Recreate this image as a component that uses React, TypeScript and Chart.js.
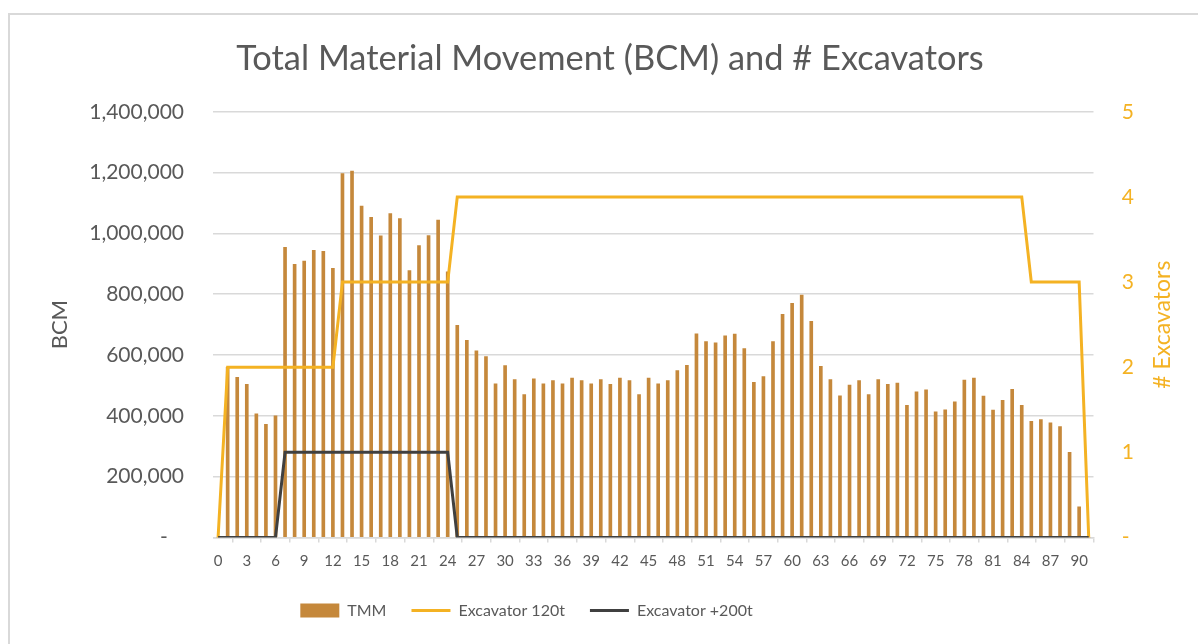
import React, { useEffect, useRef } from 'react';
import Chart from 'chart.js/auto';

const categories = ['0','1','2','3','4','5','6','7','8','9','10','11','12','13','14','15','16','17','18','19','20','21','22','23','24','25','26','27','28','29','30','31','32','33','34','35','36','37','38','39','40','41','42','43','44','45','46','47','48','49','50','51','52','53','54','55','56','57','58','59','60','61','62','63','64','65','66','67','68','69','70','71','72','73','74','75','76','77','78','79','80','81','82','83','84','85','86','87','88','89','90','91'];

const tmm = [
  0, 560000, 527000, 504000, 407000, 372000, 400000, 954000, 898000, 909000,
  944000, 941000, 885000, 1197000, 1205000, 1090000, 1053000, 992000, 1065000, 1049000,
  878000, 960000, 993000, 1044000, 874000, 698000, 648000, 614000, 595000, 505000,
  565000, 519000, 470000, 522000, 505000, 516000, 505000, 524000, 516000, 505000,
  519000, 504000, 524000, 516000, 470000, 524000, 505000, 516000, 549000, 566000,
  670000, 644000, 640000, 663000, 669000, 621000, 510000, 529000, 644000, 734000,
  770000, 797000, 711000, 563000, 519000, 466000, 501000, 516000, 470000, 519000,
  504000, 508000, 435000, 479000, 486000, 413000, 420000, 446000, 518000, 524000,
  465000, 419000, 451000, 487000, 435000, 382000, 388000, 377000, 365000, 280000,
  101000, 0
];

const excavator120 = [
  0, 2, 2, 2, 2, 2, 2, 2, 2, 2,
  2, 2, 2, 3, 3, 3, 3, 3, 3, 3,
  3, 3, 3, 3, 3, 4, 4, 4, 4, 4,
  4, 4, 4, 4, 4, 4, 4, 4, 4, 4,
  4, 4, 4, 4, 4, 4, 4, 4, 4, 4,
  4, 4, 4, 4, 4, 4, 4, 4, 4, 4,
  4, 4, 4, 4, 4, 4, 4, 4, 4, 4,
  4, 4, 4, 4, 4, 4, 4, 4, 4, 4,
  4, 4, 4, 4, 4, 3, 3, 3, 3, 3,
  3, 0
];

const excavator200 = [
  0, 0, 0, 0, 0, 0, 0, 1, 1, 1,
  1, 1, 1, 1, 1, 1, 1, 1, 1, 1,
  1, 1, 1, 1, 1, 0, 0, 0, 0, 0,
  0, 0, 0, 0, 0, 0, 0, 0, 0, 0,
  0, 0, 0, 0, 0, 0, 0, 0, 0, 0,
  0, 0, 0, 0, 0, 0, 0, 0, 0, 0,
  0, 0, 0, 0, 0, 0, 0, 0, 0, 0,
  0, 0, 0, 0, 0, 0, 0, 0, 0, 0,
  0, 0, 0, 0, 0, 0, 0, 0, 0, 0,
  0, 0
];

const TITLE = 'Total Material Movement (BCM) and # Excavators';
const LEFT_TITLE = 'BCM';
const RIGHT_TITLE = '# Excavators';
const SERIES_NAMES = ['TMM', 'Excavator 120t', 'Excavator +200t'];

const FONT = 'Lato';
const GREY = '#595959';
const GRID = '#d9d9d9';
const BAR = '#C5883B';
const GOLD = '#F4B223';
const DARK = '#404040';

const rightTitlePlugin = {
  id: 'rightTitle',
  afterDraw(chart: any) {
    const s = chart.scales.y1;
    const ctx = chart.ctx;
    const area = chart.chartArea;
    ctx.save();
    ctx.translate(s.right - 35, (area.top + area.bottom) / 2);
    ctx.rotate(-Math.PI / 2);
    ctx.font = `23px ${FONT}`;
    ctx.fillStyle = GOLD;
    ctx.textAlign = 'center';
    ctx.textBaseline = 'middle';
    ctx.fillText(RIGHT_TITLE, 0, 0);
    ctx.restore();
  },
};

// Excel places the title and legend slightly off the box centre
const boxShiftPlugin = {
  id: 'boxShift',
  afterLayout(chart: any) {
    if (chart.titleBlock) {
      chart.titleBlock.left -= 18;
    }
    if (chart.legend) {
      chart.legend.right -= 185;
    }
  },
};

export default function App() {
  const ref = useRef<HTMLCanvasElement | null>(null);

  useEffect(() => {
    if (!ref.current) return;
    const chart = new Chart(ref.current, {
      data: {
        labels: categories,
        datasets: [
          {
            type: 'bar',
            label: SERIES_NAMES[0],
            data: tmm,
            backgroundColor: BAR,
            borderColor: BAR,
            borderWidth: 0,
            barThickness: 3,
            yAxisID: 'y',
            order: 3,
          },
          {
            type: 'line',
            label: SERIES_NAMES[1],
            data: excavator120,
            borderColor: GOLD,
            backgroundColor: GOLD,
            borderWidth: 3,
            pointRadius: 0,
            tension: 0,
            yAxisID: 'y1',
            order: 2,
          },
          {
            type: 'line',
            label: SERIES_NAMES[2],
            data: excavator200,
            borderColor: DARK,
            backgroundColor: DARK,
            borderWidth: 3,
            pointRadius: 0,
            tension: 0,
            yAxisID: 'y1',
            order: 1,
          },
        ],
      } as any,
      options: {
        animation: false,
        responsive: false,
        maintainAspectRatio: false,
        layout: { padding: { left: 30, right: 0, top: 0, bottom: 15.5 } },
        plugins: {
          title: {
            display: true,
            text: TITLE,
            color: GREY,
            font: { family: FONT, size: 34.4, weight: 'normal' },
            padding: { top: 23, bottom: 32.5 },
          },
          legend: {
            position: 'bottom',
            labels: {
              color: GREY,
              font: { family: FONT, size: 16 },
              usePointStyle: true,
              pointStyleWidth: 39,
              boxHeight: 14,
              padding: 25,
              generateLabels: (chart: any) => {
                const items = (Chart as any).defaults.plugins.legend.labels.generateLabels(chart);
                return items
                  .map((it: any) => {
                    const isBar = it.datasetIndex === 0;
                    return {
                      ...it,
                      pointStyle: isBar ? 'rect' : 'line',
                      lineWidth: isBar ? 0 : 3,
                      fillStyle: isBar ? BAR : it.strokeStyle,
                    };
                  })
                  .sort((a: any, b: any) => a.datasetIndex - b.datasetIndex);
              },
            },
          },
          tooltip: { enabled: false },
        },
        scales: {
          x: {
            type: 'category',
            offset: true,
            afterFit: (scale: any) => { scale.height = 40; },
            grid: {
              display: true,
              drawOnChartArea: false,
              drawTicks: true,
              tickLength: 5,
              color: GRID,
              lineWidth: 1.5,
              offset: true,
            },
            border: { display: true, color: GRID, width: 1.5 },
            ticks: {
              autoSkip: false,
              maxRotation: 0,
              minRotation: 0,
              padding: 10,
              color: GREY,
              font: { family: FONT, size: 15 },
              callback: function (this: any, _v: any, i: number) {
                return i % 3 === 0 ? categories[i] : null;
              },
            },
          },
          y: {
            position: 'left',
            min: 0,
            max: 1400000,
            afterFit: (scale: any) => { scale.width = 173.3; },
            grid: { color: GRID, lineWidth: 1.5, drawTicks: false },
            border: { display: false },
            ticks: {
              stepSize: 200000,
              padding: 29.3,
              color: GREY,
              font: { family: FONT, size: 21 },
              callback: (v: any) => (v === 0 ? '-   ' : Number(v).toLocaleString('en-US')),
            },
            title: {
              display: true,
              text: LEFT_TITLE,
              color: GREY,
              font: { family: FONT, size: 22 },
              padding: { top: 6.8, bottom: 0 },
            },
          },
          y1: {
            position: 'right',
            min: 0,
            max: 5,
            afterFit: (scale: any) => { scale.width = 104.5; },
            grid: { display: false, drawTicks: false },
            border: { display: false },
            ticks: {
              stepSize: 1,
              padding: 28.2,
              color: GOLD,
              font: { family: FONT, size: 21 },
              callback: (v: any) => (v === 0 ? '-' : String(v)),
            },
          },
        },
      } as any,
      plugins: [rightTitlePlugin, boxShiftPlugin],
    });
    return () => chart.destroy();
  }, []);

  return (
    <div
      style={{
        position: 'absolute',
        left: 8,
        top: 13,
        width: 1190,
        height: 631,
        borderLeft: `2px solid ${GRID}`,
        borderTop: `2px solid ${GRID}`,
        background: '#fff',
      }}
    >
      <canvas ref={ref} width={1188} height={629} style={{ display: 'block', width: 1188, height: 629 }} />
    </div>
  );
}
